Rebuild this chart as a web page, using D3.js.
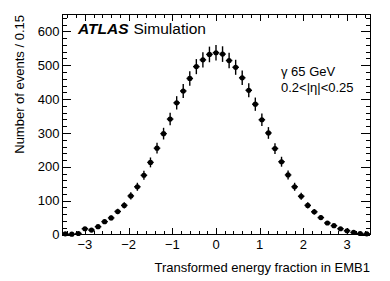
<!DOCTYPE html>
<html><head><meta charset="utf-8">
<script src="https://cdn.jsdelivr.net/npm/d3@7"></script>
<style>html,body{margin:0;padding:0;background:#fff;}svg{display:block;font-family:"Liberation Sans",Arial,Helvetica,sans-serif;}</style>
</head><body>
<svg id="c" width="390" height="281"></svg>
<script>
const binCenters = [-3.45,-3.30,-3.15,-3.00,-2.85,-2.70,-2.55,-2.40,-2.25,-2.10,-1.95,-1.80,-1.65,-1.50,-1.35,-1.20,-1.05,-0.90,-0.75,-0.60,-0.45,-0.30,-0.15,0.00,0.15,0.30,0.45,0.60,0.75,0.90,1.05,1.20,1.35,1.50,1.65,1.80,1.95,2.10,2.25,2.40,2.55,2.70,2.85,3.00,3.15,3.30,3.45];
const counts = [2,1,3,17,13,23,38,49,68,86,114,141,175,213,255,298,341,389,424,461,496,516,532,537,533,514,494,463,426,385,339,300,254,215,176,141,113,86,67,50,34,26,17,11,6,3,2];
const binHalfWidth = 0.075;
const xTicks = [-3,-2,-1,0,1,2,3];
const yTicks = [0,100,200,300,400,500,600];
const xDomain = [-3.525, 3.525];
const yDomain = [0, 650];
const xTitle = "Transformed energy fraction in EMB1";
const yTitle = "Number of events / 0.15";
const labelLines = ["γ 65 GeV", "0.2<|η|<0.25"];

const L = 62, R = 370, T = 14.5, B = 234.5;
const svg = d3.select("#c");
const x = d3.scaleLinear().domain(xDomain).range([L, R]);
const y = d3.scaleLinear().domain(yDomain).range([B, T]);

const g = svg.append("g");
// minor ticks
const xMinor = d3.range(-3.4, 3.5001, 0.2).map(v => +v.toFixed(2)).filter(v => v >= xDomain[0] && v <= xDomain[1] && !xTicks.some(t => Math.abs(t - v) < 1e-6));
const yMinor = d3.range(0, 650, 20).filter(v => v % 100 !== 0);

const axisG = g.append("g").attr("stroke", "#000").attr("stroke-width", 1).attr("shape-rendering", "crispEdges");
function xt(v, len) {
  axisG.append("line").attr("x1", Math.round(x(v))+0.5).attr("x2", Math.round(x(v))+0.5).attr("y1", B).attr("y2", B - len);
  axisG.append("line").attr("x1", Math.round(x(v))+0.5).attr("x2", Math.round(x(v))+0.5).attr("y1", T).attr("y2", T + len);
}
function yt(v, len) {
  axisG.append("line").attr("y1", Math.round(y(v))+0.5).attr("y2", Math.round(y(v))+0.5).attr("x1", L).attr("x2", L + len);
  axisG.append("line").attr("y1", Math.round(y(v))+0.5).attr("y2", Math.round(y(v))+0.5).attr("x1", R).attr("x2", R - len);
}
xTicks.forEach(v => xt(v, 6.5));
xMinor.forEach(v => xt(v, 3.3));
yTicks.forEach(v => yt(v, 9));
yMinor.forEach(v => yt(v, 4.5));

// tick labels
g.selectAll(".xl").data(xTicks).enter().append("text")
  .attr("x", d => x(d)).attr("y", 248.5).attr("text-anchor", "middle")
  .attr("font-size", 13).text(d => d < 0 ? "\u2212" + Math.abs(d) : d);
g.selectAll(".yl").data(yTicks).enter().append("text")
  .attr("x", 59.5).attr("y", d => y(d) + 4.6).attr("text-anchor", "end")
  .attr("font-size", 13).text(d => d);

// data points
const pts = g.append("g");
binCenters.forEach((c, i) => {
  const n = counts[i], e = Math.sqrt(n);
  pts.append("line").attr("x1", x(c)).attr("x2", x(c)).attr("y1", y(Math.max(0, n - e))).attr("y2", y(n + e)).attr("stroke", "#000").attr("stroke-width", 1.4);
  pts.append("line").attr("x1", x(c - binHalfWidth)).attr("x2", x(c + binHalfWidth)).attr("y1", y(n)).attr("y2", y(n)).attr("stroke", "#000").attr("stroke-width", 1.4);
  pts.append("circle").attr("cx", x(c)).attr("cy", y(n)).attr("r", 2.6).attr("fill", "#000");
});

// frame
g.append("rect").attr("x", L + 0.5).attr("y", T).attr("width", R - L - 0.5).attr("height", B - T)
  .attr("fill", "none").attr("stroke", "#000").attr("stroke-width", 1).attr("shape-rendering", "crispEdges");

// titles
g.append("text").attr("x", R).attr("y", 271.5).attr("text-anchor", "end").attr("font-size", 13).text(xTitle);
g.append("text").attr("transform", "translate(24,15) rotate(-90)").attr("text-anchor", "end").attr("font-size", 13).text(yTitle);

// ATLAS label
const at = g.append("text").attr("x", 78).attr("y", 33.5).attr("font-size", 15.5);
at.append("tspan").attr("font-weight", "bold").attr("font-style", "italic").text("ATLAS");
at.append("tspan").attr("dx", 5).text("Simulation");

g.selectAll(".lab").data(labelLines).enter().append("text")
  .attr("x", 281).attr("y", (d, i) => 75.5 + i * 16.5).attr("font-size", 13).text(d => d);
</script>
</body></html>
